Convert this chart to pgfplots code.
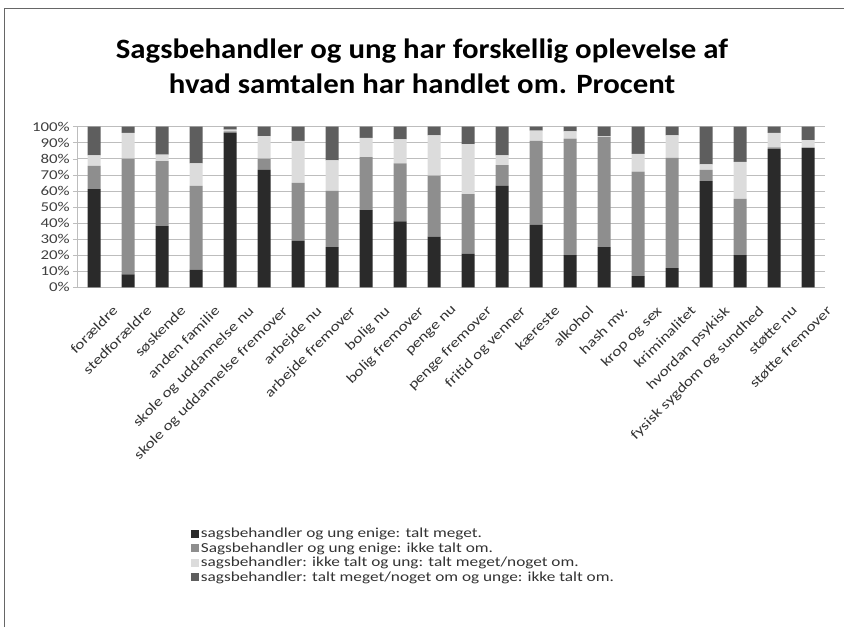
\documentclass[border=0pt]{standalone}
\usepackage{pgfplots}
\pgfplotsset{compat=1.18}
\usepackage{fontspec}
\usepackage{graphicx}
\setmainfont{Carlito}
\newfontfamily\wide[FakeStretch=1.25]{Carlito}
\newfontfamily\titlefont[FakeStretch=1.1]{Carlito}
\newcommand\sx[1]{\scalebox{1.25}[1]{#1}}
\definecolor{cA}{HTML}{2A2A2A}
\definecolor{cB}{HTML}{8E8E8E}
\definecolor{cC}{HTML}{DCDCDC}
\definecolor{cD}{HTML}{5E5E5E}
\definecolor{gridc}{HTML}{BDBDBD}
\begin{document}
\begin{tikzpicture}[x=1pt,y=1pt]
\useasboundingbox (0,0) rectangle (844,627);
\draw[gray!80!black, line width=1pt] (4,0) -- (4,618) -- (844,618);
\node[font=\titlefont\fontsize{28}{35}\selectfont\bfseries, anchor=base] at (422,568) {Sagsbehandler og ung har forskellig oplevelse af};
\node[font=\titlefont\fontsize{28}{35}\selectfont\bfseries, anchor=base] at (422,533) {hvad samtalen har handlet om. Procent};
\begin{axis}[
  at={(77pt,339.7pt)}, anchor=south west,
  scale only axis, width=748pt, height=160.8pt,
  ybar stacked, bar width=13pt,
  xmin=-0.5, xmax=21.5, ymin=0, ymax=100,
  axis x line*=bottom, axis y line*=left,
  axis line style={gridc, -},
  ytick={0,10,...,100},
  yticklabel={\pgfmathprintnumber{\tick}\%},
  /pgf/number format/assume math mode=true,
  ymajorgrids, grid style={gridc},
  ytick style={gridc}, tick align=outside, major tick length=4pt,
  yticklabel style={font=\wide\fontsize{13.5}{13.5}\selectfont, text=black!75, inner sep=1pt, xshift=-2pt},
  xtick={0,...,21},
  xticklabels={\sx{forældre}, \sx{stedforældre}, \sx{søskende}, \sx{anden familie}, \sx{skole og uddannelse nu}, \sx{skole og uddannelse fremover}, \sx{arbejde nu}, \sx{arbejde fremover}, \sx{bolig nu}, \sx{bolig fremover}, \sx{penge nu}, \sx{penge fremover}, \sx{fritid og venner}, \sx{kæreste}, \sx{alkohol}, \sx{hash mv.}, \sx{krop og sex}, \sx{kriminalitet}, \sx{hvordan psykisk}, \sx{fysisk sygdom og sundhed}, \sx{støtte nu}, \sx{støtte fremover}},
  xticklabel style={rotate=45, anchor=north east, font=\fontsize{13.8}{13.8}\selectfont, text=black!80, inner sep=0pt, xshift=3pt, yshift=-22pt},
  xtick style={draw=none},
  minor xtick={-0.5,0.5,...,21.5},
  minor x tick style={gridc}, minor tick length=5pt,
  legend style={at={(0.152,-1.49)}, anchor=north west, draw=none, font=\wide\fontsize{13.8}{13.8}\selectfont, text=black!80, row sep=1.5pt, inner sep=0pt, legend cell align=left, nodes={inner ysep=1pt, inner xsep=2pt}},
  legend image code/.code={\fill[#1] (0pt,-4pt) rectangle (8pt,4pt);},
]
\addplot[fill=cA, draw=none] coordinates {(0,61) (1,8) (2,38) (3,11) (4,96) (5,73) (6,29) (7,25) (8,48) (9,41) (10,31.5) (11,21) (12,63) (13,39) (14,20) (15,25) (16,7) (17,12) (18,66) (19,20) (20,86) (21,86.5)};
\addplot[fill=cB, draw=none] coordinates {(0,14.5) (1,72) (2,40.5) (3,52) (4,1) (5,7) (6,36) (7,35) (8,33) (9,36) (10,38) (11,37) (12,13) (13,52) (14,72.5) (15,68.5) (16,65) (17,68.5) (18,7) (19,35) (20,1) (21,0.5)};
\addplot[fill=cC, draw=none] coordinates {(0,6.5) (1,16) (2,4) (3,14) (4,1) (5,14) (6,26) (7,19) (8,12) (9,15) (10,25) (11,31) (12,6) (13,6.5) (14,4.5) (15,0.5) (16,11) (17,14) (18,3.5) (19,23) (20,9) (21,4.5)};
\addplot[fill=cD, draw=none] coordinates {(0,18) (1,4) (2,17.5) (3,23) (4,2) (5,6) (6,9) (7,21) (8,7) (9,8) (10,5.5) (11,11) (12,18) (13,2.5) (14,3) (15,6) (16,17) (17,5.5) (18,23.5) (19,22) (20,4) (21,8.5)};
\legend{sagsbehandler og ung enige: talt meget., Sagsbehandler og ung enige: ikke talt om., sagsbehandler: ikke talt og ung: talt meget/noget om., sagsbehandler: talt meget/noget om og unge: ikke talt om.}
\end{axis}
\end{tikzpicture}
\end{document}
